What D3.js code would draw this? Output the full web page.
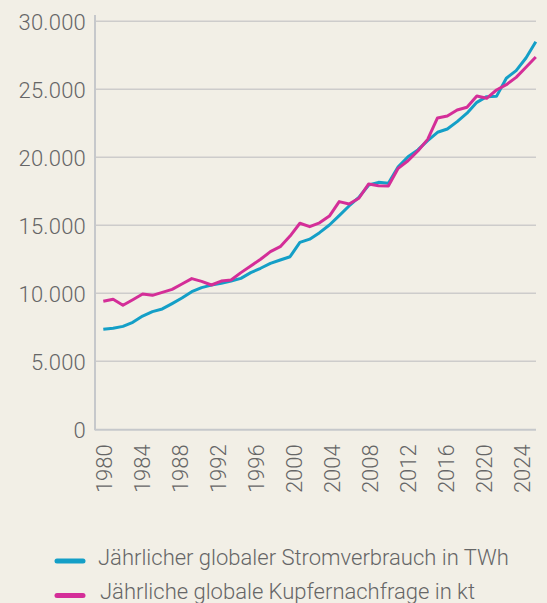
<!DOCTYPE html>
<html><head><meta charset="utf-8">
<script src="https://cdn.jsdelivr.net/npm/d3@7"></script>
<style>
html,body{margin:0;padding:0;background:#f2efe6;}
svg{display:block;font-family:Roboto,"Open Sans",sans-serif;}
</style></head>
<body><svg id="c" width="547" height="603"></svg>
<script>
const years = d3.range(1980, 2025);
const strom = [7350,7430,7570,7870,8330,8650,8850,9240,9650,10120,10420,10600,10730,10900,11100,11520,11840,12200,12450,12690,13740,13980,14460,15020,15710,16420,17050,17960,18160,18090,19310,20040,20540,21220,21840,22080,22620,23240,24040,24460,24480,25810,26370,27300,28500];
const kupfer = [9410,9560,9120,9530,9950,9850,10070,10290,10680,11080,10880,10610,10900,10980,11520,12010,12500,13060,13430,14210,15150,14900,15180,15680,16740,16570,16990,18040,17910,17890,19190,19750,20460,21320,22890,23040,23480,23680,24510,24340,24950,25340,25880,26620,27370];
const yTicks = [0,5000,10000,15000,20000,25000,30000];
const xTickYears = [1980,1984,1988,1992,1996,2000,2004,2008,2012,2016,2020,2024];
const seriesNames = ["Jährlicher globaler Stromverbrauch in TWh","Jährliche globale Kupfernachfrage in kt"];
const colors = ["#149fc7","#d42e98"];

const svg = d3.select("#c");
const mLeft = 95, mRight = 536, mTop = 15, mBottom = 429.3;
const x = d3.scaleLinear().domain([1980, 2024]).range([103.3, 535.8]);
const xLab = d3.scaleLinear().domain([1980, 2024]).range([104, 522]);
const y = d3.scaleLinear().domain([0, 30000]).range([mBottom, 21.3]);
const fmt = d => d3.format(",")(d).replace(/,/g, ".");

// gridlines
svg.append("g").selectAll("line").data(yTicks.filter(d => d > 0)).join("line")
  .attr("x1", mLeft).attr("x2", mRight).attr("y1", d => y(d)).attr("y2", d => y(d))
  .attr("stroke", "#cdcccb").attr("stroke-width", 1.5);

// y axis labels
const yAxis = d3.axisLeft(y).tickValues(yTicks).tickFormat(fmt).tickSize(0).tickPadding(0);
const gy = svg.append("g").attr("transform", `translate(86,0)`).call(yAxis);
gy.select(".domain").remove();
gy.selectAll("text").attr("font-size", 22).attr("font-weight", 300).attr("fill", "#666")
  .attr("font-family", "Roboto").attr("dy", "0.36em").attr("letter-spacing", 0.2);

// x axis labels
const xAxis = d3.axisBottom(xLab).tickValues(xTickYears).tickFormat(d3.format("d")).tickSize(0);
const gx = svg.append("g").attr("transform", `translate(0,${mBottom})`).call(xAxis);
gx.select(".domain").remove();
gx.selectAll("text").attr("font-size", 22).attr("font-weight", 300).attr("fill", "#666")
  .attr("font-family", "Roboto")
  .attr("transform", "rotate(-90)").attr("text-anchor", "end")
  .attr("x", -15).attr("y", 0).attr("dy", "0.36em");

// axis lines
svg.append("line").attr("x1", mLeft).attr("x2", mLeft).attr("y1", mTop).attr("y2", mBottom + 1)
  .attr("stroke", "#c6c8cb").attr("stroke-width", 2);
svg.append("line").attr("x1", mLeft).attr("x2", mRight).attr("y1", mBottom + 0.5).attr("y2", mBottom + 0.5)
  .attr("stroke", "#c6c8cb").attr("stroke-width", 2);

// lines
const line = d3.line().x((d, i) => x(years[i])).y(d => y(d));
[strom, kupfer].forEach((s, k) => {
  svg.append("path").datum(s).attr("d", line).attr("fill", "none")
    .attr("stroke", colors[k]).attr("stroke-width", 3).attr("stroke-linejoin", "round");
});

// legend
const lg = svg.append("g");
const ly = [561, 595.5];
seriesNames.forEach((n, k) => {
  lg.append("line").attr("x1", 57).attr("x2", 83).attr("y1", ly[k]).attr("y2", ly[k])
    .attr("stroke", colors[k]).attr("stroke-width", 5).attr("stroke-linecap", "round");
  lg.append("text").attr("x", k === 0 ? 98 : 100).attr("y", ly[k] + 3.5)
    .attr("font-size", 22).attr("font-weight", 300).attr("fill", "#666")
    .attr("font-family", "Roboto").text(n);
});
</script></body></html>
